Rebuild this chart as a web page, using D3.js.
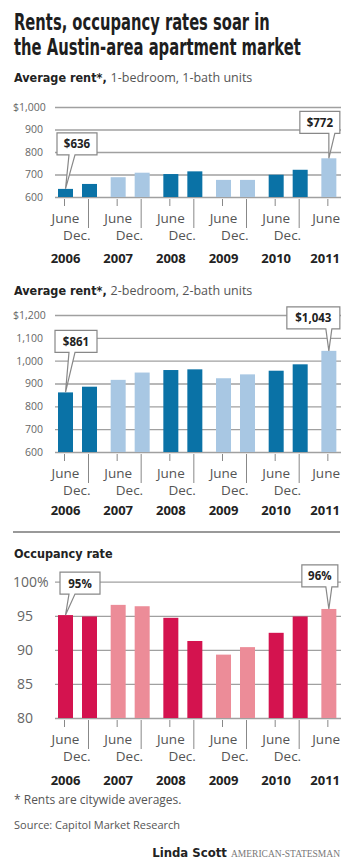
<!DOCTYPE html>
<html>
<head>
<meta charset="utf-8">
<script src="https://cdn.jsdelivr.net/npm/d3@7"></script>
<style>
  body { margin: 0; background: #fff; }
  svg { display: block; font-family: "Open Sans", sans-serif; }
  .cond { font-family: "DejaVu Sans Condensed", "DejaVu Sans", sans-serif; font-stretch: condensed; }
</style>
</head>
<body>
<div id="chart"></div>
<script>
// data
var years = ["2006", "2007", "2008", "2009", "2010", "2011"];
var periodYear = ["2006", "2006", "2007", "2007", "2008", "2008", "2009", "2009", "2010", "2010", "2011"];
var periodHalf = ["June", "Dec.", "June", "Dec.", "June", "Dec.", "June", "Dec.", "June", "Dec.", "June"];
var darkYears = ["2006", "2008", "2010"];

var rentOneBed = [636, 658, 688, 708, 702, 714, 676, 676, 699, 721, 772];
var rentTwoBed = [861, 886, 916, 948, 959, 962, 923, 940, 956, 984, 1043];
var occupancy = [95.1, 94.9, 96.6, 96.4, 94.7, 91.3, 89.3, 90.4, 92.5, 94.9, 96.0];

var rentOneTicks = [600, 700, 800, 900, 1000];
var rentTwoTicks = [600, 700, 800, 900, 1000, 1100, 1200];
var occTicks = [80, 85, 90, 95, 100];

var W = 341, H = 859;

var svg = d3.select("#chart").append("svg")
  .attr("width", W)
  .attr("height", H);

svg.append("rect").attr("width", W).attr("height", H).attr("fill", "#fff");

// keep texts inside the right edge
function fitRight(sel) {
  sel.each(function () {
    var b = this.getBBox();
    if (b.x + b.width > W - 1) {
      var shift = b.x + b.width - (W - 1);
      d3.select(this).attr("x", +d3.select(this).attr("x") - shift);
    }
  });
}

// title, squeezed horizontally like the condensed headline face
function titleLine(str, y, width) {
  var g = svg.append("g");
  var t = g.append("text").attr("class", "cond")
    .attr("font-weight", "bold").attr("fill", "#1e1e1e").attr("font-size", 23)
    .text(str);
  var sx = width / t.node().getComputedTextLength();
  g.attr("transform", "translate(14," + y + ") scale(" + sx + ",1)");
}
titleLine("Rents, occupancy rates soar in", 30, 256);
titleLine("the Austin-area apartment market", 55, 287);

// shared x scales
var x = d3.scaleBand().domain(years).range([56, 56 + 6 * 52.67]);
var half = d3.scaleBand().domain(["June", "Dec."]).range([2, 41]).paddingInner(0.375);
function cx(i) { return x(periodYear[i]) + half(periodHalf[i]) + half.bandwidth() / 2; }

function subtitle(y, bold, rest) {
  var t = svg.append("text").attr("x", 14).attr("y", y);
  t.append("tspan").attr("class", "cond").attr("font-weight", "bold")
    .attr("font-size", 12.5).attr("fill", "#222").text(bold);
  if (rest) t.append("tspan").attr("font-size", 12.5).attr("fill", "#555").text(rest);
}

function panel(opts) {
  var y = d3.scaleLinear().domain(opts.domain).range(opts.range);
  var base = opts.range[0];
  var g = svg.append("g");

  // grid + y labels
  var axis = d3.axisLeft(y)
    .tickValues(opts.ticks)
    .tickSize(-(W - 55))
    .tickPadding(0)
    .tickFormat(opts.fmt);
  var ax = g.append("g").attr("transform", "translate(55,0)").call(axis);
  ax.select(".domain").remove();
  ax.selectAll("line").attr("stroke", "#a0a0a0").attr("stroke-width", 1.3);
  ax.selectAll("text")
    .attr("fill", "#666")
    .attr("font-size", opts.tickSize)
    .attr("font-family", "Open Sans, sans-serif")
    .attr("x", function (d) { return d === opts.domain[1] ? 13 - 55 : opts.labelRight - 55; })
    .attr("text-anchor", function (d) { return d === opts.domain[1] ? "start" : "end"; });

  // bars
  g.selectAll(".bar")
    .data(opts.values)
    .enter().append("rect")
    .attr("x", function (d, i) { return cx(i) - half.bandwidth() / 2; })
    .attr("width", half.bandwidth())
    .attr("y", function (d) { return y(d); })
    .attr("height", function (d) { return base - y(d); })
    .attr("fill", function (d, i) {
      return darkYears.indexOf(periodYear[i]) >= 0 ? opts.dark : opts.light;
    });

  // ticks under bars
  g.selectAll(".tk")
    .data(opts.values)
    .enter().append("line")
    .attr("x1", function (d, i) { return cx(i) - 1; })
    .attr("x2", function (d, i) { return cx(i) - 1; })
    .attr("y1", base + 2)
    .attr("y2", function (d, i) { return periodHalf[i] === "June" ? base + 9 : base + 31; })
    .attr("stroke", "#888").attr("stroke-width", 1);

  // period labels
  var pl = g.selectAll(".pl")
    .data(opts.values)
    .enter().append("text")
    .attr("x", function (d, i) { return periodHalf[i] === "June" ? cx(i) : cx(i) + 1; })
    .attr("y", function (d, i) { return periodHalf[i] === "June" ? base + 26 : base + 43; })
    .attr("text-anchor", function (d, i) { return periodHalf[i] === "June" ? "middle" : "end"; })
    .attr("font-size", 13.5).attr("fill", "#555")
    .text(function (d, i) { return periodHalf[i]; });
  fitRight(pl);

  // year labels
  var yl = g.selectAll(".yl")
    .data(years)
    .enter().append("text")
    .attr("x", function (d) { return x(d) + half("June") + half.bandwidth() / 2; })
    .attr("y", base + opts.yearDy)
    .attr("text-anchor", "middle")
    .attr("font-size", 13).attr("font-weight", "bold").attr("fill", "#222")
    .text(function (d) { return d; });
  fitRight(yl);

  // callouts
  opts.callouts.forEach(function (c) {
    var tipX = cx(c.i), tipY = y(opts.values[c.i]);
    var left = tipX + c.dx, bottom = tipY - c.dy, top = bottom - 22, right = left + c.w;
    var px = left + c.p;
    var path = "M" + left + "," + top + "H" + right + "V" + bottom +
      "H" + (px + 3) + "L" + tipX + "," + tipY + "L" + (px - 3) + "," + bottom +
      "H" + left + "Z";
    g.append("path").attr("d", path)
      .attr("fill", "#fff").attr("stroke", "#888").attr("stroke-width", 1.2);
    g.append("text")
      .attr("x", left + c.w / 2).attr("y", top + 15.5)
      .attr("text-anchor", "middle")
      .attr("font-size", 11.5).attr("font-weight", "bold").attr("fill", "#222")
      .text(c.label);
  });
}

// panel 1
subtitle(82, "Average rent*, ", "1-bedroom, 1-bath units");
panel({
  values: rentOneBed,
  domain: [600, 1000], range: [197, 107],
  ticks: rentOneTicks,
  fmt: function (d) { return d === 1000 ? "$1,000" : d3.format(",")(d); },
  tickSize: 10.5, labelRight: 43,
  dark: "#0a72a6", light: "#a8c7e3",
  yearDy: 66,
  callouts: [
    { i: 0, label: "$636", dx: -8.5, dy: 34, w: 40, p: 15 },
    { i: 10, label: "$772", dx: -29, dy: 25, w: 40, p: 32 }
  ]
});

// panel 2
subtitle(295, "Average rent*, ", "2-bedroom, 2-bath units");
panel({
  values: rentTwoBed,
  domain: [600, 1200], range: [452, 315],
  ticks: rentTwoTicks,
  fmt: function (d) { return d === 1200 ? "$1,200" : d3.format(",")(d); },
  tickSize: 10.5, labelRight: 43,
  dark: "#0a72a6", light: "#a8c7e3",
  yearDy: 63,
  callouts: [
    { i: 0, label: "$861", dx: -10.5, dy: 40, w: 42, p: 17 },
    { i: 10, label: "$1,043", dx: -42, dy: 22, w: 53, p: 42 }
  ]
});

// separator
svg.append("line")
  .attr("x1", 13).attr("x2", 340).attr("y1", 532).attr("y2", 532)
  .attr("stroke", "#999").attr("stroke-width", 2);

// panel 3
subtitle(558, "Occupancy rate", null);
panel({
  values: occupancy,
  domain: [80, 100], range: [718, 581.7],
  ticks: occTicks,
  fmt: function (d) { return d === 100 ? "100%" : d; },
  tickSize: 14, labelRight: 33,
  dark: "#d4134f", light: "#ec8c98",
  yearDy: 67,
  callouts: [
    { i: 0, label: "95%", dx: -5.5, dy: 21, w: 40, p: 12 },
    { i: 10, label: "96%", dx: -27, dy: 22, w: 36, p: 27 }
  ]
});

// footer
svg.append("text").attr("x", 14).attr("y", 804)
  .attr("font-size", 12).attr("fill", "#555").text("* Rents are citywide averages.");
svg.append("text").attr("x", 14).attr("y", 829)
  .attr("font-size", 11).attr("fill", "#555").text("Source: Capitol Market Research");
var credit = svg.append("text").attr("x", 340).attr("y", 857).attr("text-anchor", "end");
credit.append("tspan").attr("class", "cond").attr("font-weight", "bold")
  .attr("font-size", 13).attr("fill", "#222").text("Linda Scott ");
credit.append("tspan").attr("font-family", "Liberation Serif, serif")
  .attr("font-size", 9.5).attr("fill", "#777").text("AMERICAN-STATESMAN");
</script>
</body>
</html>
